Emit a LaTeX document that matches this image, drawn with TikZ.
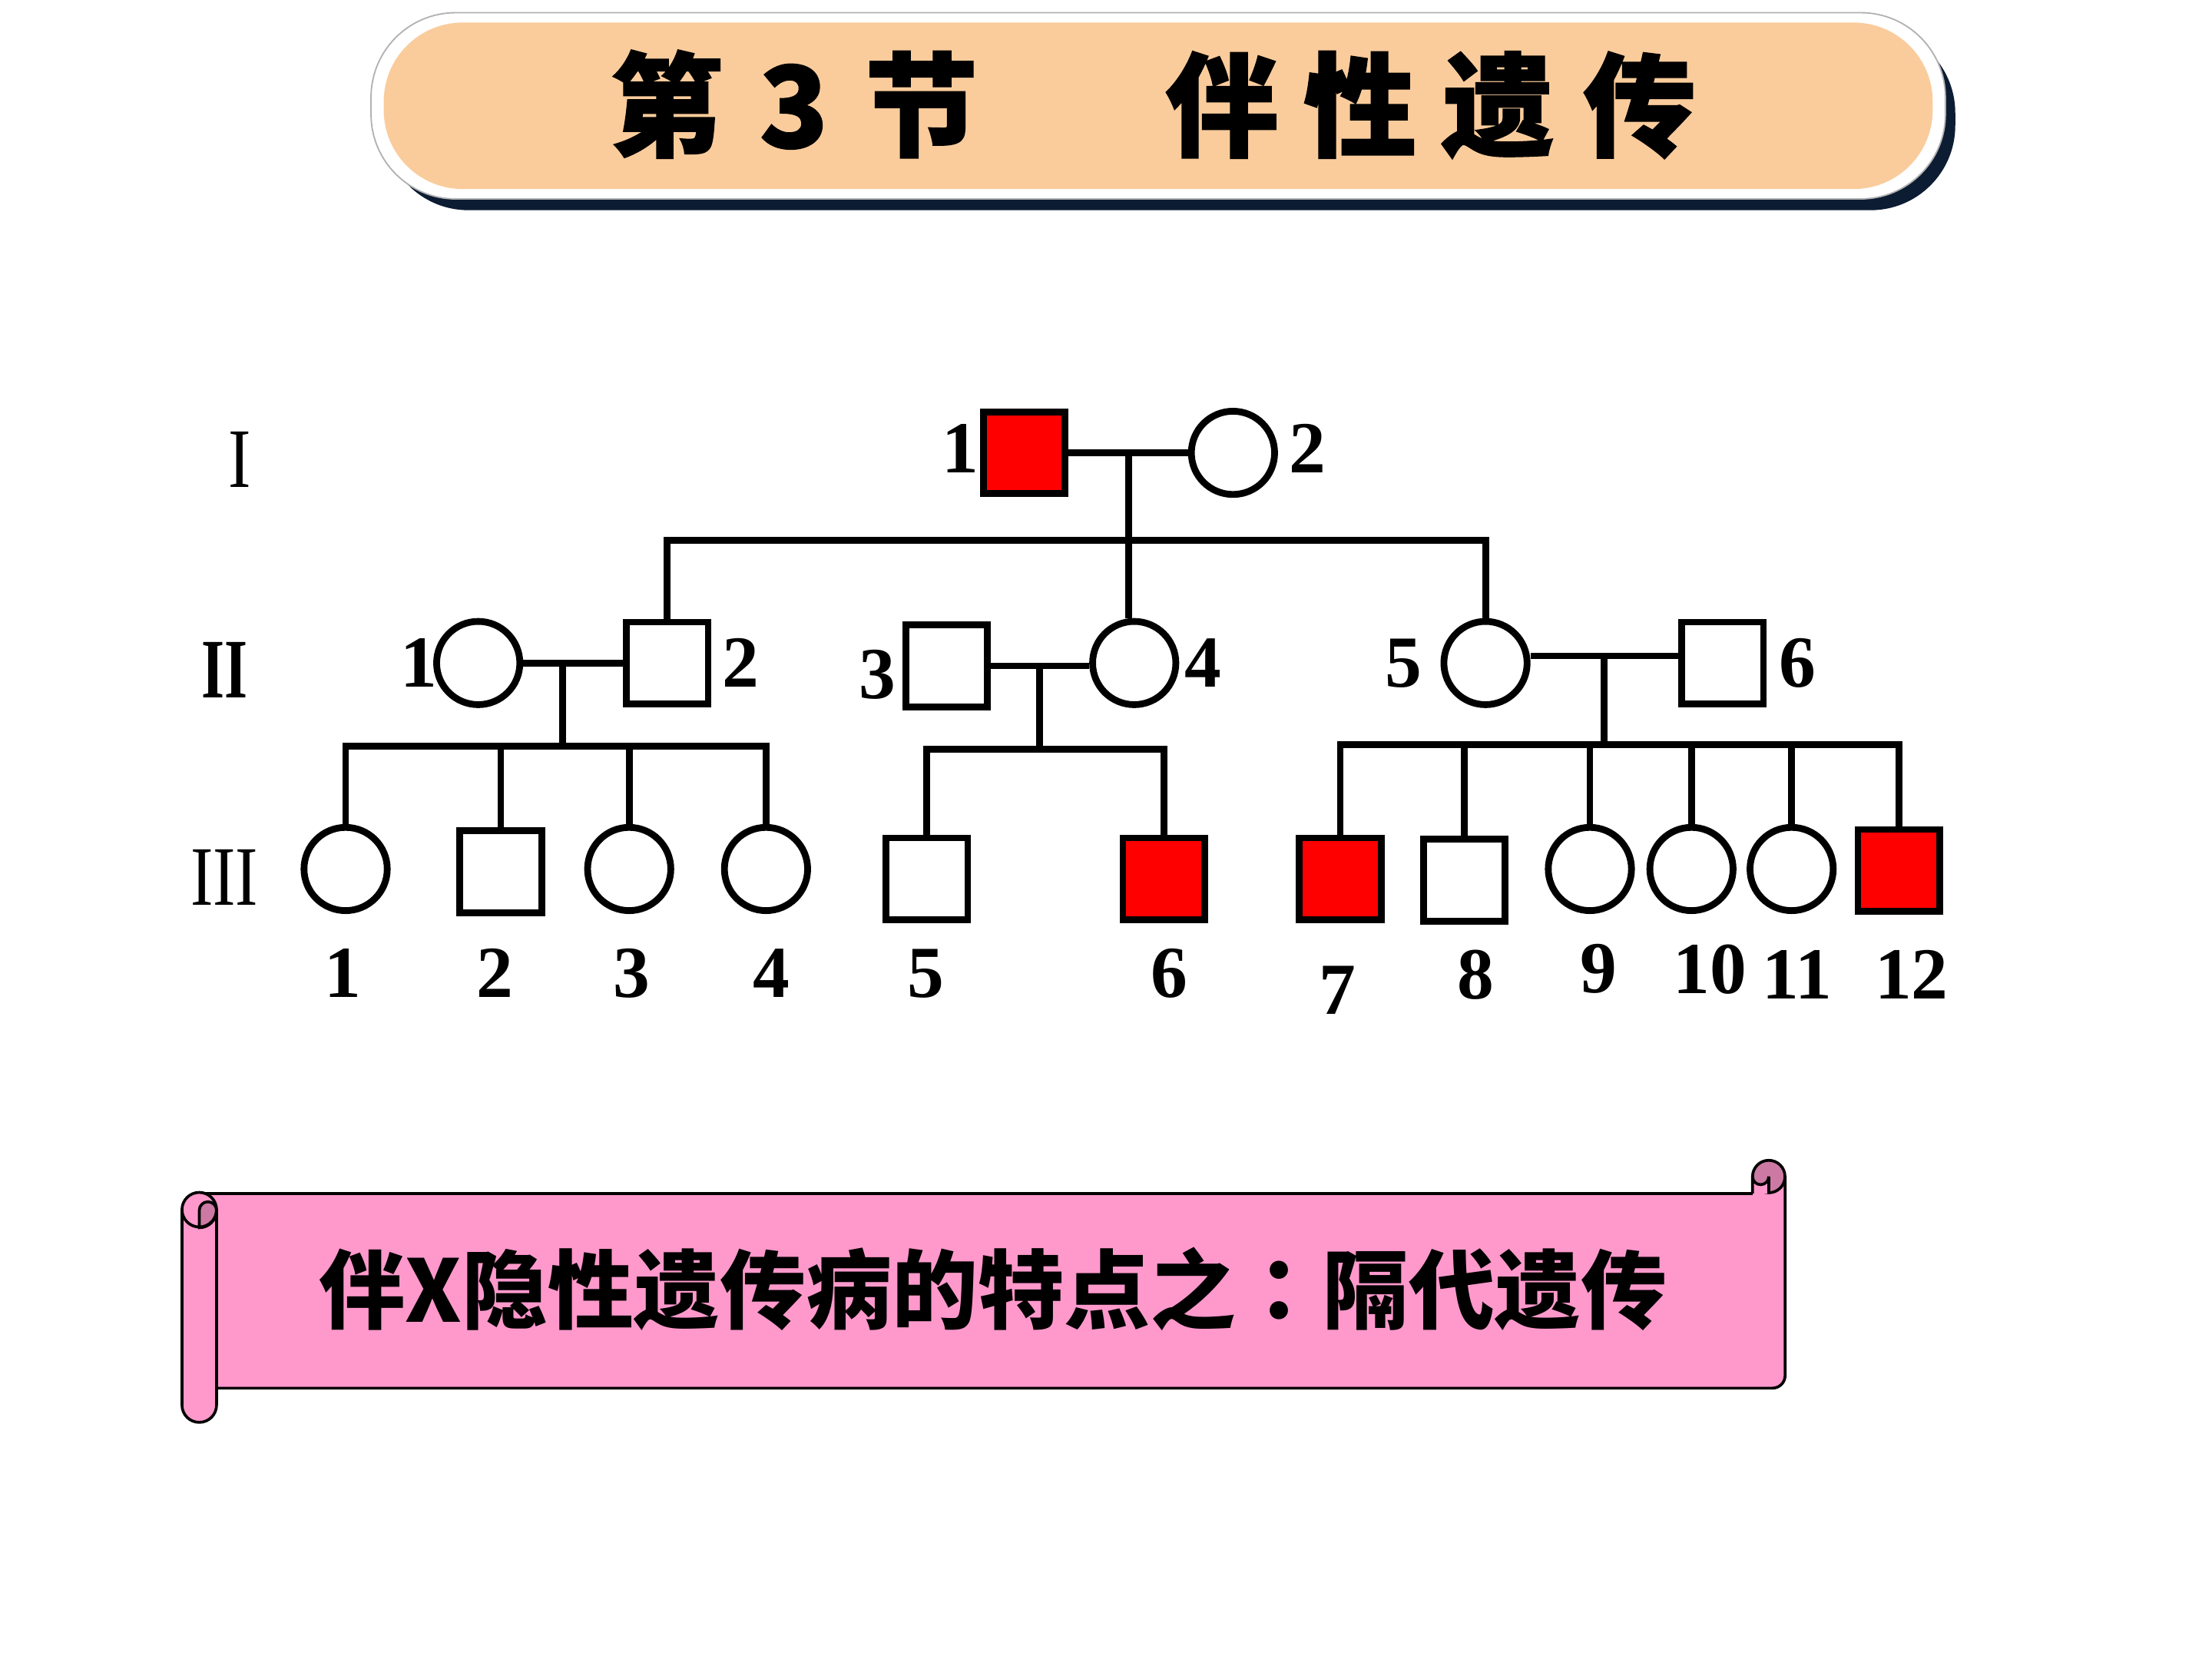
\documentclass[tikz,border=0pt]{standalone}
\usepackage{fontspec}
\setmainfont{Liberation Serif}
\newfontfamily\cjk{Noto Sans CJK SC}
\newfontfamily\cjktc{Noto Sans CJK TC}
\newfontfamily\cjkheavy{Noto Sans CJK SC}[BoldFeatures={FakeBold=1.2}]
\definecolor{navy}{RGB}{12,28,50}
\definecolor{peach}{RGB}{250,204,156}
\definecolor{scrollpink}{RGB}{255,153,204}
\definecolor{curl}{RGB}{204,122,163}
\definecolor{affred}{RGB}{255,0,0}
\tikzset{
  male/.style={rectangle, draw, line width=2.4pt, minimum size=29pt, inner sep=0pt, fill=white},
  female/.style={circle, draw, line width=2.4pt, minimum size=29.5pt, inner sep=0pt, fill=white},
  affected/.style={fill=affred},
  lbl/.style={font=\bfseries\fontsize{26}{26}\selectfont, inner sep=0pt},
  gen/.style={font=\fontsize{30}{30}\selectfont, inner sep=0pt},
  pline/.style={line width=2.4pt},
  scrollline/.style={line width=1pt, draw=black},
}
\begin{document}
\begin{tikzpicture}[x=0.5pt,y=-0.5pt]
\useasboundingbox (0,0) rectangle (1568,1176);
\fill[white] (0,0) rectangle (1568,1176);

% ---------- title banner ----------
\fill[navy, rounded corners=30pt] (272,20) rectangle (1386,149);
\filldraw[fill=white, draw=gray!60, line width=0.5pt, rounded corners=30pt] (263,9) rectangle (1379,141);
\fill[peach, rounded corners=28pt] (272,16) rectangle (1370,134);
\node[anchor=west, inner sep=0pt, font=\cjkheavy\bfseries\fontsize{40}{40}\selectfont] (title) at (432,74)
  {第\hspace{13pt}3\hspace{13pt}节\hspace{66.5pt}伴\hspace{9pt}性\hspace{9pt}遗\hspace{10pt}传};

% ---------- generation labels ----------
\node[gen] (gI) at (170,326) {\scalebox{0.8}[1]{I}};
\node[gen, font=\bfseries\fontsize{30}{30}\selectfont] (gII) at (159,475) {\scalebox{0.7}[1]{II}};
\node[gen] (gIII) at (159,622) {\scalebox{0.8}[1]{III}};

% ---------- generation I ----------
\node[male, affected] (I1) at (726,321) {};
\node[female] (I2) at (874,321) {};
\node[lbl] (lI1) at (681,318) {1};
\node[lbl] (lI2) at (927,318) {2};

% ---------- generation II ----------
\node[female] (II1) at (339,470) {};
\node[male] (II2) at (473,470) {};
\node[male] (II3) at (671,472) {};
\node[female] (II4) at (804,470) {};
\node[female] (II5) at (1053,470) {};
\node[male] (II6) at (1221,470) {};
\node[lbl] (lII1) at (297,470) {1};
\node[lbl] (lII2) at (525,470) {2};
\node[lbl] (lII3) at (622,478) {3};
\node[lbl] (lII4) at (853,470) {4};
\node[lbl] (lII5) at (995,470) {5};
\node[lbl] (lII6) at (1274,470) {6};

% ---------- generation III ----------
\node[female] (III1) at (245,616) {};
\node[male] (III2) at (355,618) {};
\node[female] (III3) at (446,616) {};
\node[female] (III4) at (543,616) {};
\node[male] (III5) at (657,623) {};
\node[male, affected] (III6) at (825,623) {};
\node[male, affected] (III7) at (950,623) {};
\node[male] (III8) at (1038,624) {};
\node[female] (III9) at (1127,616) {};
\node[female] (III10) at (1199,616) {};
\node[female] (III11) at (1270,616) {};
\node[male, affected] (III12) at (1346,617) {};
\node[lbl] (lIII1) at (243,690) {1};
\node[lbl] (lIII2) at (351,690) {2};
\node[lbl] (lIII3) at (448,690) {3};
\node[lbl] (lIII4) at (547,690) {4};
\node[lbl] (lIII5) at (656,690) {5};
\node[lbl] (lIII6) at (829,690) {6};
\node[lbl] (lIII7) at (948,702) {7};
\node[lbl] (lIII8) at (1046,691) {8};
\node[lbl] (lIII9) at (1133,687) {9};
\node[lbl] (lIII10) at (1212,687) {10};
\node[lbl] (lIII11) at (1274,691) {11};
\node[lbl] (lIII12) at (1355,691) {12};

% ---------- connectors ----------
\coordinate (m1) at (800,321);
\coordinate (s1) at (800,383);
\coordinate (m2) at (399,470);
\coordinate (s2) at (399,529);
\coordinate (m3) at (737,472);
\coordinate (s3) at (737,531);
\coordinate (m4) at (1137,465);
\coordinate (s4) at (1137,528);

\draw[pline] (I1) -- (I2);
\draw[pline] (m1) -- (s1);
\draw[pline] (II2.north) |- (s1) -| (II5.north);
\draw[pline] (s1) -- (II4.north -| s1);

\draw[pline] (II1) -- (II2);
\draw[pline] (m2) -- (s2);
\draw[pline] (III1.north) |- (s2) -| (III4.north);
\draw[pline] (III2.north |- s2) -- (III2.north);
\draw[pline] (III3.north |- s2) -- (III3.north);

\draw[pline] (II3.east) -- (II4.west |- m3);
\draw[pline] (m3) -- (s3);
\draw[pline] (III5.north) |- (s3) -| (III6.north);

\draw[pline] (II5.east |- m4) -- (II6.west |- m4);
\draw[pline] (m4) -- (s4);
\draw[pline] (III7.north) |- (s4) -| (III12.north);
\draw[pline] (III8.north |- s4) -- (III8.north);
\draw[pline] (III9.north |- s4) -- (III9.north);
\draw[pline] (III10.north |- s4) -- (III10.north);
\draw[pline] (III11.north |- s4) -- (III11.north);

% ---------- scroll banner ----------
\fill[scrollpink] (141,846) -- (1242.3,846) -- (1242.3,834) -- (1265.4,834) -- (1265.4,975)
  arc[start angle=0, end angle=90, radius=9] -- (141,984) -- cycle;
\draw[scrollline] (141,846) -- (1242.3,846);
\draw[scrollline] (1265.4,834) -- (1265.4,975) arc[start angle=0, end angle=90, radius=9] -- (153.5,984);
% right roll
\filldraw[fill=curl, scrollline] (1253.8,834) circle[radius=11.5];
\fill[scrollpink] (1242.3,834) arc[start angle=180, end angle=0, radius=5.75] -- (1253.8,846) -- (1242.3,846) -- cycle;
\draw[scrollline] (1242.3,846) -- (1242.3,834) arc[start angle=180, end angle=0, radius=5.75] -- (1253.8,846);
% left roll
\filldraw[fill=scrollpink, scrollline] (129,857.5) -- (129,996) arc[start angle=180, end angle=0, radius=12.25]
  -- (153.5,857.5) arc[start angle=0, end angle=-180, radius=12.25] -- cycle;
\filldraw[fill=curl, scrollline] (141.25,869.75) -- (141.25,858) arc[start angle=180, end angle=360, radius=6.125]
  arc[start angle=0, end angle=90, radius=12.25] -- cycle;
\draw[scrollline] (129,857.5) arc[start angle=180, end angle=0, radius=12.25];

\node[inner sep=0pt, font=\cjk\bfseries\fontsize{30.5}{30.5}\selectfont] (caption) at (704,914)
  {伴X隐性遗传病的特点之{\cjktc ：}隔代遗传};
\end{tikzpicture}
\end{document}
